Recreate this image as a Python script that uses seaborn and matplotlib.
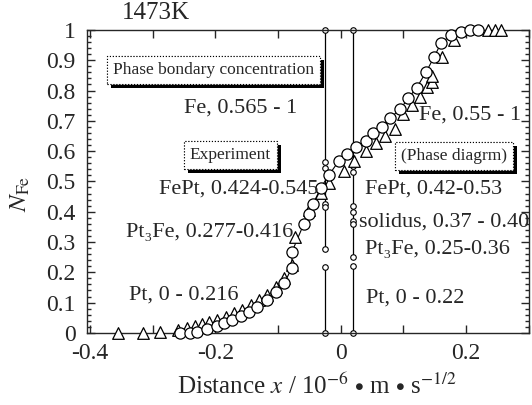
import numpy as np
import pandas as pd
import seaborn as sns
import matplotlib.pyplot as plt
import matplotlib.patheffects as pe
from matplotlib.ticker import MultipleLocator, FuncFormatter

# measured profile, series 1 (circles)
circ_x = [-0.257, -0.241, -0.229, -0.213, -0.198, -0.186, -0.173, -0.159, -0.146, -0.133,
          -0.117, -0.103, -0.090, -0.078, -0.078, -0.059, -0.051, -0.044, -0.032, -0.019,
          -0.003, 0.010, 0.024, 0.040, 0.052, 0.065, 0.079, 0.095, 0.108, 0.121,
          0.136, 0.149, 0.160, 0.176, 0.192, 0.206, 0.219]
circ_y = [0.0, 0.0, 0.003, 0.013, 0.023, 0.033, 0.043, 0.056, 0.069, 0.086,
          0.109, 0.135, 0.165, 0.215, 0.267, 0.360, 0.393, 0.426, 0.479, 0.521,
          0.568, 0.591, 0.614, 0.634, 0.660, 0.680, 0.710, 0.739, 0.776, 0.809,
          0.861, 0.911, 0.957, 0.983, 0.993, 1.0, 1.0]

# measured profile, series 2 (triangles)
tri_x = [-0.356, -0.316, -0.289, -0.260, -0.246, -0.233, -0.222, -0.210, -0.197, -0.183,
         -0.170, -0.157, -0.143, -0.130, -0.117, -0.103, -0.090, -0.078, -0.073, -0.051,
         -0.032, -0.019, 0.005, 0.021, 0.040, 0.056, 0.071, 0.087, 0.100, 0.113,
         0.127, 0.137, 0.146, 0.146, 0.162, 0.181, 0.235, 0.246, 0.256]
tri_y = [0.0, 0.0, 0.003, 0.010, 0.017, 0.023, 0.030, 0.036, 0.043, 0.053,
         0.066, 0.076, 0.092, 0.109, 0.125, 0.152, 0.182, 0.224, 0.317, 0.406,
         0.462, 0.495, 0.535, 0.568, 0.600, 0.627, 0.650, 0.673, 0.723, 0.752,
         0.779, 0.812, 0.828, 0.848, 0.911, 0.967, 1.0, 1.0, 1.0]

# phase boundary ranges at the two interfaces
left_pos = -0.026
left_ranges = [(0.565, 1.0), (0.424, 0.545), (0.277, 0.416), (0.0, 0.216)]
right_pos = 0.020
right_ranges = [(0.55, 1.0), (0.42, 0.53), (0.37, 0.40), (0.25, 0.36), (0.0, 0.22)]

left_labels = ["Fe, 0.565 - 1", "FePt, 0.424-0.545", "Pt\u2083Fe, 0.277-0.416", "Pt, 0 - 0.216"]
right_labels = ["Fe, 0.55 - 1", "FePt, 0.42-0.53", "solidus, 0.37 - 0.40",
                "Pt\u2083Fe, 0.25-0.36", "Pt, 0 - 0.22"]

sns.set_style("ticks")
plt.rcParams['font.family'] = ['Liberation Serif', 'DejaVu Serif']
plt.rcParams['mathtext.fontset'] = 'stix'

fig = plt.figure(figsize=(5.32, 4.05), dpi=100)
ax = fig.add_axes([0.1635, 0.178, 0.8305, 0.748])

# phase boundary lines
for pos, rngs in [(left_pos, left_ranges), (right_pos, right_ranges)]:
    for lo, hi in rngs:
        ax.plot([pos, pos], [lo, hi], color='black', lw=0.9, marker='o', ms=4,
                mfc='white', mec='black', mew=0.8, zorder=2, clip_on=False)

df_c = pd.DataFrame({"x": circ_x, "y": circ_y})
df_t = pd.DataFrame({"x": tri_x, "y": tri_y})
sns.lineplot(data=df_c, x="x", y="y", ax=ax, color='black', lw=0.8,
             estimator=None, sort=False, zorder=3)
sns.scatterplot(data=df_t, x="x", y="y", ax=ax, marker='^', s=70,
                facecolor='white', edgecolor='black', linewidth=0.9, zorder=4, clip_on=False)
sns.scatterplot(data=df_c, x="x", y="y", ax=ax, marker='o', s=65,
                facecolor='white', edgecolor='black', linewidth=0.9, zorder=5, clip_on=False)

ax.set_xlim(-0.405, 0.3)
ax.set_ylim(0, 1)

ax.xaxis.set_major_locator(MultipleLocator(0.1))
ax.xaxis.set_major_formatter(FuncFormatter(
    lambda v, p: ('%g' % round(v, 2)) if abs(round(v * 10)) % 2 == 0 else ''))
ax.yaxis.set_major_locator(MultipleLocator(0.1))
ax.yaxis.set_minor_locator(MultipleLocator(0.02))
ax.yaxis.set_major_formatter(FuncFormatter(lambda v, p: '%g' % round(v, 2)))
ax.tick_params(axis='both', which='both', direction='in', top=True, right=True,
               labelsize=17, width=1)
ax.tick_params(axis='both', which='major', length=6)
ax.tick_params(axis='y', which='major', pad=8)
ax.tick_params(axis='x', which='major', pad=7)
ax.tick_params(axis='y', which='minor', length=3)
for s in ax.spines.values():
    s.set_linewidth(1)

ax.set_xlabel(r"Distance $\mathit{x}$ / 10$^{-6}$ $\bullet$ m $\bullet$ s$^{-1/2}$", fontsize=18)
ax.xaxis.set_label_coords(0.52, -0.135)
ax.set_ylabel(r"$N_{\mathrm{Fe}}$", fontsize=18)
ax.yaxis.set_label_coords(-0.125, 0.46)
ax.text(0.08, 1.02, "1473K", transform=ax.transAxes, fontsize=18, ha='left', va='bottom')

# annotation boxes with drop shadow
def shadow_box(x, y, s):
    t = ax.text(x, y, s, fontsize=12.5, ha='center', va='center', zorder=6,
                bbox=dict(boxstyle='square,pad=0.35', fc='white', ec='black', lw=0.8, ls=':'))
    t.get_bbox_patch().set_path_effects(
        [pe.withSimplePatchShadow(offset=(3, -3), shadow_rgbFace='black', alpha=1), pe.Normal()])

shadow_box(-0.203, 0.868, "Phase bondary concentration")
shadow_box(-0.176, 0.587, "Experiment")
shadow_box(0.18, 0.584, "(Phase diagrm)")

left_pos_txt = [(-0.16, 0.743), (-0.163, 0.474), (-0.21, 0.333), (-0.25, 0.125)]
for (tx, ty), s in zip(left_pos_txt, left_labels):
    ax.text(tx, ty, s, fontsize=16, ha='center', va='center', zorder=6)

right_pos_txt = [(0.207, 0.72), (0.148, 0.476), (0.165, 0.366), (0.154, 0.274), (0.119, 0.115)]
for (tx, ty), s in zip(right_pos_txt, right_labels):
    ax.text(tx, ty, s, fontsize=16, ha='center', va='center', zorder=6)

plt.savefig("out.png", dpi=100)
